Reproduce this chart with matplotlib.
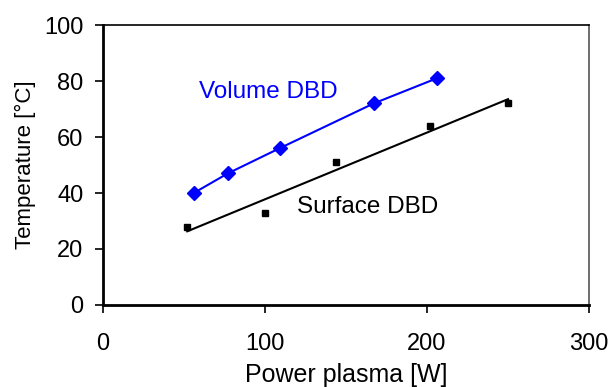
import numpy as np
import matplotlib
matplotlib.use("Agg")
import matplotlib.pyplot as plt

plt.rcParams['font.family'] = ['Liberation Sans', 'DejaVu Sans']

# data
volume_power = [56, 77, 109, 167, 206]
volume_temp = [40, 47, 56, 72, 81]
surface_power = [52, 100, 144, 202, 250]
surface_temp = [28, 33, 51, 64, 72]

x_ticks = [0, 100, 200, 300]
y_ticks = [0, 20, 40, 60, 80, 100]

fig = plt.figure(figsize=(6.13, 3.87), dpi=100)
ax = fig.add_axes([0.168, 0.212, 0.793, 0.723])

# volume DBD: markers with connecting line
ax.plot(volume_power, volume_temp, color='#0000ff', lw=1.5,
        marker='D', ms=7, mfc='#0000ff', mec='#0000ff')

# surface DBD: square markers and a linear trend line
ax.plot(surface_power, surface_temp, ls='none', marker='s', ms=4.5,
        color='black')
k, b = np.polyfit(surface_power, surface_temp, 1)
xs = np.array([surface_power[0], surface_power[-1]])
ax.plot(xs, k * xs + b, color='black', lw=1.5)

ax.text(59, 76, 'Volume DBD', color='#0000ff', fontsize=17.5, va='center')
ax.text(120, 35, 'Surface DBD', color='black', fontsize=17.5, va='center')

ax.set_xlim(0, 300)
ax.set_ylim(0, 100)
ax.set_xticks(x_ticks)
ax.set_yticks(y_ticks)
ax.tick_params(direction='out', length=6, width=1.2, labelsize=17)
ax.tick_params(axis='x', pad=14)
ax.tick_params(axis='y', pad=8)
ax.set_xlabel('Power plasma [W]', fontsize=18, labelpad=6)
ax.set_ylabel('Temperature [°C]', fontsize=16, labelpad=6)

for side in ('left', 'bottom'):
    ax.spines[side].set_linewidth(2)
ax.spines['top'].set_linewidth(1.2)
ax.spines['right'].set_linewidth(1.2)
ax.spines['right'].set_color('#555555')

fig.savefig('out.png', dpi=100)
